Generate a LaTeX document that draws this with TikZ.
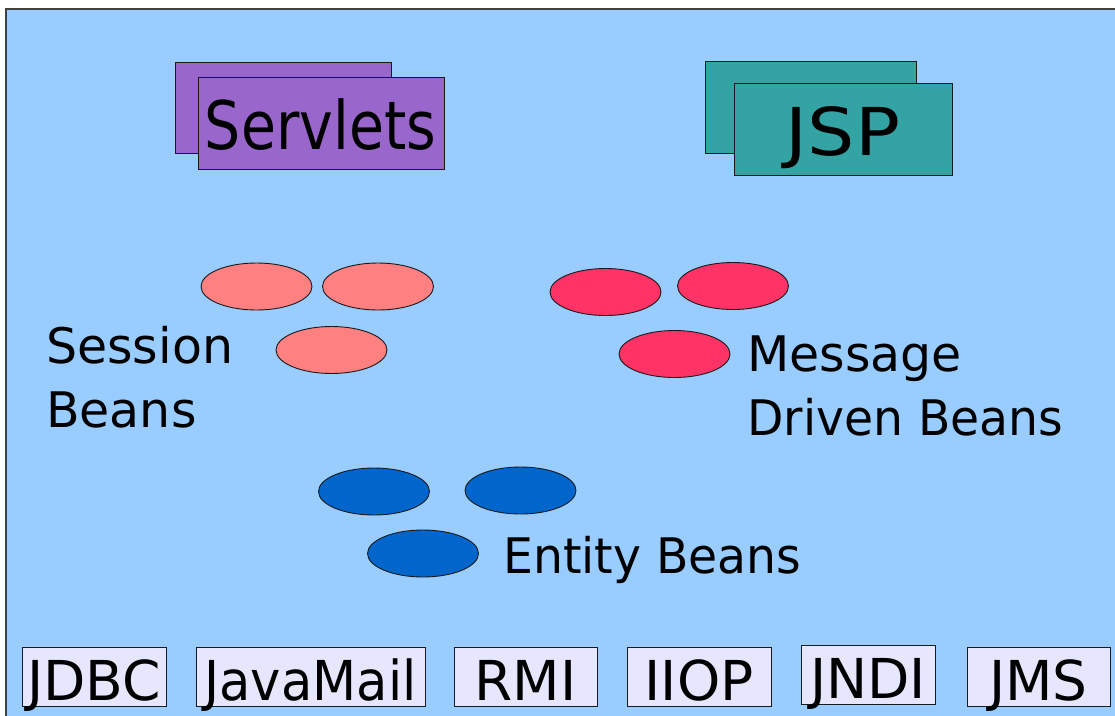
\documentclass[tikz,border=0pt]{standalone}
\usepackage{fontspec}
\setmainfont{DejaVu Sans}
\usetikzlibrary{shapes.geometric}
\definecolor{pane}{HTML}{99CCFF}
\definecolor{paneedge}{HTML}{404040}
\definecolor{servletfill}{HTML}{9966CC}
\definecolor{jspfill}{HTML}{33A3A3}
\definecolor{sessionfill}{HTML}{FF8080}
\definecolor{mdbfill}{HTML}{FF3366}
\definecolor{entityfill}{HTML}{0066CC}
\definecolor{apifill}{HTML}{E6E6FF}
\definecolor{cardedge}{HTML}{1A1A1A}

\newcommand{\narrowline}[1]{\scalebox{0.965}[1]{#1}}

\tikzset{
  card/.style={draw=cardedge, line width=0.9pt, inner sep=0pt, anchor=north west},
  bean/.style={ellipse, draw=cardedge, line width=0.9pt, inner sep=0pt,
               minimum width=111pt, minimum height=47pt},
  caption/.style={inner sep=0pt, anchor=base west, font=\fontsize{49}{64}\selectfont},
  api/.style={draw=cardedge, line width=0.9pt, fill=apifill, inner xsep=0pt, inner ysep=0pt,
              text height=53pt, text depth=6pt, anchor=base,
              font=\fontsize{55}{66}\selectfont}
}

\begin{document}
\begin{tikzpicture}[x=1pt,y=-1pt]
\useasboundingbox (0,0) rectangle (1115,715);
\fill[white] (0,0) rectangle (1115,715);
\begin{scope}
  \clip (0,0) rectangle (1115,715);
  \draw[fill=pane, draw=paneedge, line width=1.2pt] (6,9) rectangle (1125,725);
\end{scope}

% web tier
\node[card, fill=servletfill, minimum width=216pt, minimum height=91pt] (servletsBack) at (175,62) {};
\node[card, fill=servletfill, minimum width=246pt, minimum height=92pt] (servlets) at (198,77) {};
\node[inner sep=0pt, anchor=base] (servletsText) at (320.5,149)
  {\scalebox{0.85}[1]{\fontsize{67}{80}\selectfont Servlets}};

\node[card, fill=jspfill, minimum width=211pt, minimum height=92pt] (jspBack) at (705,61) {};
\node[card, fill=jspfill, minimum width=218pt, minimum height=92pt] (jsp) at (734,83) {};
\node[inner sep=0pt, anchor=base] (jspText) at (843,155)
  {\scalebox{1.13}[1]{\fontsize{66}{80}\selectfont JSP}};

% session beans
\node[bean, fill=sessionfill] (session1) at (256.5,286.5) {};
\node[bean, fill=sessionfill] (session2) at (378,286.5) {};
\node[bean, fill=sessionfill] (session3) at (331.5,350) {};
\node[caption] (sessionText) at (46,363)
  {\begin{tabular}[t]{@{}l@{}}Session\\Beans\end{tabular}};

% message driven beans
\node[bean, fill=mdbfill] (mdb1) at (605.5,292) {};
\node[bean, fill=mdbfill] (mdb2) at (733,286) {};
\node[bean, fill=mdbfill] (mdb3) at (674.5,354) {};
\node[caption] (mdbText) at (747,371)
  {\begin{tabular}[t]{@{}l@{}}Message\\\narrowline{Driven Beans}\end{tabular}};

% entity beans
\node[bean, fill=entityfill] (entity1) at (374,491.5) {};
\node[bean, fill=entityfill] (entity2) at (520.5,490.5) {};
\node[bean, fill=entityfill] (entity3) at (423,553.5) {};
\node[caption] (entityText) at (503,573) {\narrowline{Entity Beans}};

% service APIs
\node[api, minimum width=144pt] (jdbc) at (94,700) {JDBC};
\node[api, minimum width=229pt] (javamail) at (310.5,700) {\scalebox{0.93}[1]{JavaMail}};
\node[api, minimum width=143pt] (rmi) at (525.5,700) {RMI};
\node[api, minimum width=144pt] (iiop) at (699,700) {IIOP};
\node[api, minimum width=134pt] (jndi) at (868,698) {JNDI};
\node[api, minimum width=143pt] (jms) at (1038.5,700) {JMS};
\end{tikzpicture}
\end{document}
